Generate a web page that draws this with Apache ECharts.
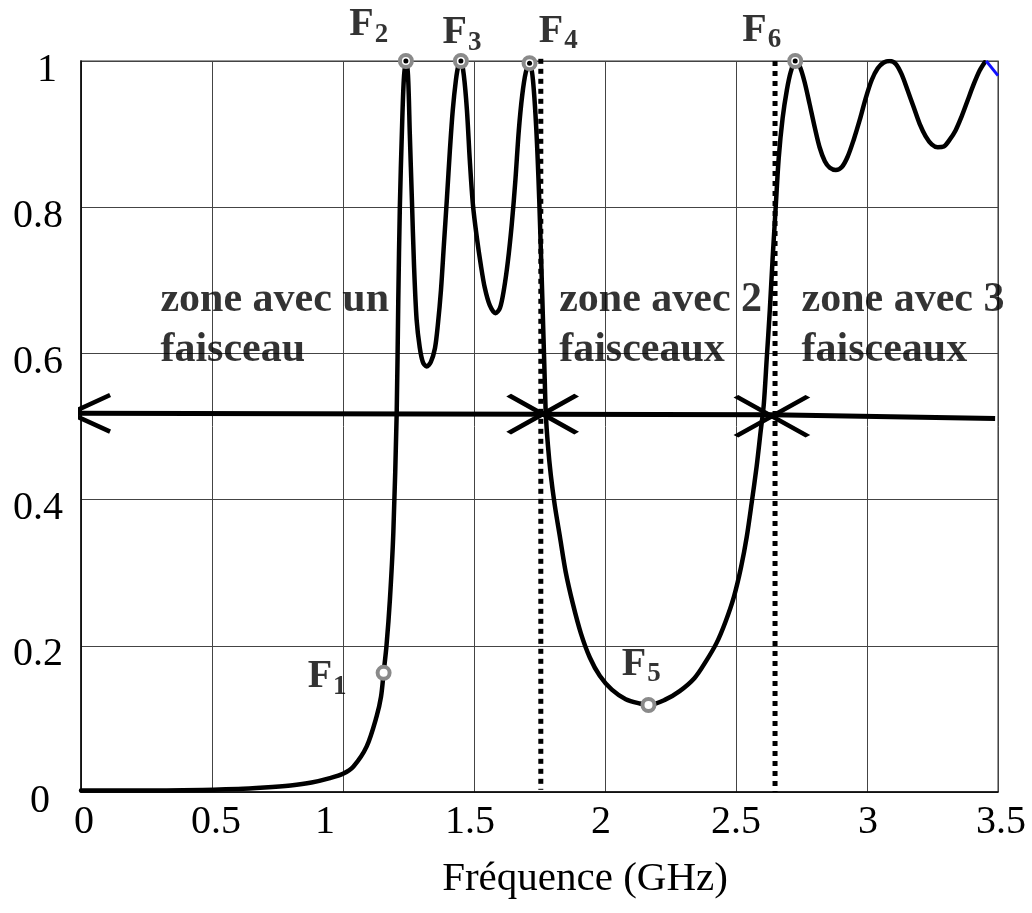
<!DOCTYPE html>
<html><head><meta charset="utf-8">
<script src="https://cdn.jsdelivr.net/npm/echarts@6/dist/echarts.min.js"></script>
<style>html,body{margin:0;padding:0;background:#fff}#c{width:1032px;height:913px}</style>
</head><body><div id="c"></div>
<script>
// ---------- data ----------
const xTicks = ['0','0.5','1','1.5','2','2.5','3','3.5'];
const yTicks = ['0','0.2','0.4','0.6','0.8','1'];
const curveFreq = [0,0.30,0.60,0.70,0.80,0.88,0.95,1.00,1.04,1.09,1.128,1.145,1.155,1.166,1.179,1.192,1.205,1.211,1.217,1.225,1.232,1.240,1.248,1.255,1.263,1.271,1.281,1.293,1.305,1.319,1.335,1.351,1.362,1.374,1.385,1.397,1.408,1.419,1.431,1.440,1.450,1.461,1.473,1.484,1.496,1.511,1.526,1.541,1.560,1.582,1.599,1.614,1.629,1.644,1.658,1.671,1.684,1.698,1.713,1.725,1.738,1.749,1.761,1.770,1.774,1.782,1.793,1.808,1.828,1.850,1.877,1.908,1.942,1.980,2.026,2.079,2.133,2.167,2.228,2.285,2.342,2.384,2.426,2.460,2.492,2.519,2.541,2.560,2.579,2.594,2.606,2.617,2.629,2.640,2.652,2.663,2.678,2.694,2.709,2.726,2.743,2.762,2.781,2.800,2.819,2.839,2.858,2.881,2.904,2.926,2.949,2.972,2.995,3.018,3.041,3.064,3.087,3.110,3.132,3.155,3.178,3.201,3.224,3.247,3.270,3.293,3.315,3.338,3.361,3.384,3.407,3.430,3.449];
const curveVal  = [0.002,0.002,0.004,0.006,0.009,0.013,0.019,0.025,0.035,0.062,0.103,0.130,0.163,0.200,0.263,0.354,0.519,0.673,0.801,0.905,0.974,1.000,0.981,0.900,0.810,0.721,0.646,0.608,0.588,0.582,0.588,0.607,0.639,0.687,0.748,0.814,0.878,0.933,0.974,0.993,1.000,0.981,0.933,0.864,0.803,0.758,0.721,0.690,0.666,0.655,0.662,0.687,0.725,0.776,0.837,0.905,0.953,0.985,0.997,0.974,0.905,0.810,0.673,0.564,0.518,0.475,0.434,0.393,0.349,0.301,0.258,0.217,0.184,0.159,0.140,0.127,0.121,0.119,0.126,0.138,0.156,0.178,0.204,0.233,0.267,0.307,0.349,0.396,0.446,0.493,0.530,0.591,0.659,0.731,0.803,0.867,0.922,0.960,0.985,1.000,0.993,0.971,0.941,0.910,0.882,0.863,0.854,0.851,0.855,0.869,0.892,0.919,0.949,0.974,0.990,0.998,1.000,0.996,0.982,0.960,0.937,0.914,0.897,0.886,0.882,0.883,0.892,0.905,0.924,0.946,0.968,0.987,0.998];
const blueFreq = [3.455, 3.500];
const blueVal  = [1.000, 0.980];
const pointNames  = ['1','2','3','4','5','6'];
const pointFreq   = [1.155,1.240,1.450,1.712,2.166,2.726];
const pointVal    = [0.163,1.000,1.000,0.997,0.119,1.000];
const pointDotted = [false,true,true,true,false,true];
const pointLabelFreq = [0.867,1.026,1.382,1.749,2.066,2.526];
const pointLabelVal  = [0.157,1.049,1.038,1.040,0.174,1.041];
const boundaryFreq = [1.755, 2.649];
const boundaryTop  = [1.003, 1.000];
const boundaryBottom = [0.003, 0.000];
const beamFreq = [-0.042, 2.637, 3.489];
const beamVal  = [0.518, 0.516, 0.511];
const arrowFreq = [0.111, -0.042, 0.111];
const arrowVal  = [0.543, 0.518, 0.493];
const crossFreq = [1.762, 2.637];
const crossVal  = [0.517, 0.514];
const zoneTexts = ['zone avec un\nfaisceau','zone avec 2\nfaisceaux','zone avec 3\nfaisceaux'];
const zoneFreq  = [0.305, 1.827, 2.752];
const zoneVal   = [0.638, 0.638, 0.638];

// ---------- styles ----------
const SERIF = 'Liberation Serif';
const xShift = {'0':3,'0.5':4,'1':-18,'1.5':-4,'2':-4,'2.5':0,'3':1,'3.5':3};
const yPadRight = {'0':13,'1':6};
const crossSizes = [[68,38],[72,40]];

const xRich = {};
xTicks.forEach((t,i)=>{ const s = xShift[t]||0; xRich['v'+i] = {padding: s>=0?[0,0,0,2*s]:[0,-2*s,0,0], fontSize:40, fontFamily:SERIF, color:'#000'}; });
const yRich = {};
yTicks.forEach((t,i)=>{ yRich['v'+i] = {padding:[0,(yPadRight[t]||0),0,0], fontSize:40, fontFamily:SERIF, color:'#000'}; });

const zip = (a,b)=>a.map((v,i)=>[v,b[i]]);

const chart = echarts.init(document.getElementById('c'), null, {renderer:'canvas'});
const option = {
  backgroundColor:'#fff',
  animation:false,
  textStyle:{fontFamily:SERIF,color:'#000'},
  grid:{left:81,right:34,top:61,bottom:121,show:true,borderColor:'#777',borderWidth:1.5},
  xAxis:{type:'value',min:0,max:3.5,interval:0.5,
    name:'Fréquence (GHz)',nameLocation:'middle',nameGap:67,
    nameTextStyle:{fontFamily:SERIF,fontSize:41,color:'#000',padding:[0,0,0,91]},
    axisLine:{show:true,lineStyle:{color:'#000',width:1.5}},
    axisTick:{show:false},
    splitLine:{show:true,lineStyle:{color:'#444',width:1}},
    axisLabel:{margin:10,fontFamily:SERIF,fontSize:40,color:'#000',
      formatter:(v)=>{ const i = Math.round(v/0.5); return '{v'+i+'|'+xTicks[i]+'}'; }, rich:xRich}
  },
  yAxis:{type:'value',min:0,max:1,interval:0.2,
    axisLine:{show:true,lineStyle:{color:'#000',width:1.5}},
    axisTick:{show:false},
    splitLine:{show:true,lineStyle:{color:'#444',width:1}},
    axisLabel:{margin:18,fontFamily:SERIF,fontSize:40,color:'#000',padding:[18,0,0,0],
      formatter:(v)=>{ const i = Math.round(v/0.2); return '{v'+i+'|'+yTicks[i]+'}'; }, rich:yRich}
  },
  series:[
    {type:'line',data:zip(curveFreq,curveVal),showSymbol:false,symbol:'none',z:3,smooth:0.3,
      lineStyle:{color:'#000',width:4.5,join:'round',cap:'round'}},
    {type:'line',data:zip(blueFreq,blueVal),showSymbol:false,symbol:'none',z:3,clip:false,
      lineStyle:{color:'#1010ff',width:3}},
    ...boundaryFreq.map((f,i)=>({type:'line',data:[[f,boundaryTop[i]],[f,boundaryBottom[i]]],showSymbol:false,symbol:'none',z:2,clip:false,
      lineStyle:{color:'#000',width:5,type:[5,5],cap:'butt'}})),
    {type:'line',data:zip(beamFreq,beamVal),showSymbol:false,symbol:'none',z:4,clip:false,
      lineStyle:{color:'#000',width:5}},
    {type:'line',data:zip(arrowFreq,arrowVal),showSymbol:false,symbol:'none',z:4,clip:false,
      lineStyle:{color:'#000',width:4.5,join:'miter'}},
    {type:'scatter',z:5,silent:true,clip:false,symbol:'path://M0,0L10,10M0,10L10,0',
      data:crossFreq.map((f,i)=>({value:[f,crossVal[i]],symbolSize:crossSizes[i]})),
      itemStyle:{color:'rgba(0,0,0,0)',borderColor:'#000',borderWidth:5,opacity:1}},
    {type:'scatter',z:6,silent:true,clip:false,symbol:'circle',symbolSize:12,
      data:zip(pointFreq,pointVal),
      itemStyle:{color:'#fff',borderColor:'#8a8a8a',borderWidth:4,opacity:1}},
    {type:'scatter',z:7,silent:true,clip:false,symbol:'circle',symbolSize:5,
      data:zip(pointFreq,pointVal).filter((p,i)=>pointDotted[i]),
      itemStyle:{color:'#000',opacity:1}},
    {type:'scatter',z:8,silent:true,clip:false,symbolSize:1,itemStyle:{color:'rgba(0,0,0,0)'},
      data:pointNames.map((n,i)=>({value:[pointLabelFreq[i],pointLabelVal[i]],name:n})),
      label:{show:true,position:[0,0],align:'left',verticalAlign:'middle',
        formatter:(p)=>'{f|F}{s|'+p.name+'}',
        rich:{f:{fontFamily:SERIF,fontWeight:'bold',fontSize:40,color:'#000'},
              s:{fontFamily:SERIF,fontWeight:'bold',fontSize:27,color:'#000',padding:[20,0,0,1]}}}},
    {type:'scatter',z:8,silent:true,clip:false,symbolSize:1,itemStyle:{color:'rgba(0,0,0,0)'},
      data:zoneTexts.map((t,i)=>({value:[zoneFreq[i],zoneVal[i]],name:t})),
      label:{show:true,position:[0,0],align:'left',verticalAlign:'middle',
        formatter:(p)=>p.name,fontFamily:SERIF,fontWeight:'bold',fontSize:42,lineHeight:50,color:'#000'}}
  ]
};
chart.setOption(option);
</script></body></html>
